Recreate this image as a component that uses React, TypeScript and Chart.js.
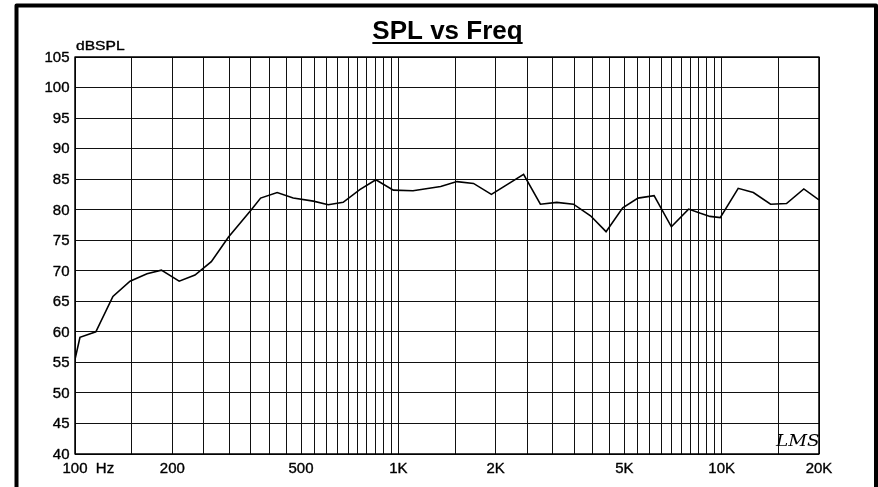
import React, { useEffect, useRef } from 'react';
import { Chart, registerables } from 'chart.js';

Chart.register(...registerables);

// Frequency (Hz) and SPL (dB) of the measured response
const FREQ = [100, 103.6, 116, 131, 148, 167, 185, 210, 235, 264, 298, 351, 375, 422, 473, 546, 607, 675, 760, 852, 965, 1110, 1352, 1518, 1708, 1940, 2440, 2750, 3090, 3480, 3930, 4390, 4943, 5512, 6180, 6990, 7900, 8600, 9200, 9900, 11250, 12530, 14170, 15870, 17950, 20000];
const SPL = [55.5, 59.1, 60.0, 65.8, 68.3, 69.5, 70.1, 68.3, 69.3, 71.5, 75.5, 80.0, 81.9, 82.8, 81.9, 81.4, 80.8, 81.2, 83.3, 84.9, 83.2, 83.1, 83.8, 84.6, 84.3, 82.5, 85.8, 80.9, 81.2, 80.9, 79.0, 76.4, 80.3, 81.9, 82.3, 77.2, 80.1, 79.4, 78.9, 78.7, 83.5, 82.8, 80.9, 81.0, 83.4, 81.6];

// Grid positions and tick labels
const X_GRID = [100, 150, 200, 250, 300, 350, 400, 450, 500, 550, 600, 650, 700, 750, 800, 850, 900, 950, 1000, 1500, 2000, 2500, 3000, 3500, 4000, 4500, 5000, 5500, 6000, 6500, 7000, 7500, 8000, 8500, 9000, 9500, 10000, 15000, 20000];
const X_LABEL_VALUES = [100, 200, 500, 1000, 2000, 5000, 10000, 20000];
const X_LABEL_TEXT = ['100', '200', '500', '1K', '2K', '5K', '10K', '20K'];
const Y_TICKS = [40, 45, 50, 55, 60, 65, 70, 75, 80, 85, 90, 95, 100, 105];

const TITLE = 'SPL vs Freq';
const Y_UNIT = 'dBSPL';
const X_UNIT = '  Hz';
const LOGO = 'LMS';

const FONT = '"Liberation Sans", Arial, sans-serif';

function boldText(ctx: CanvasRenderingContext2D, txt: string, x: number, y: number) {
  ctx.fillText(txt, x, y);
  ctx.lineWidth = 0.35;
  ctx.strokeText(txt, x, y);
}

const decorPlugin = {
  id: 'decor',
  afterDraw(chart: any) {
    const ctx = chart.ctx as CanvasRenderingContext2D;
    const { left, top, right, bottom } = chart.chartArea;
    const xs = chart.scales.x;
    const ys = chart.scales.y;
    ctx.save();

    // outer frame
    ctx.strokeStyle = '#000';
    ctx.lineWidth = 4;
    ctx.lineJoin = 'round';
    ctx.strokeRect(16.5, 5.5, 859.5, 600);

    // plot border
    ctx.lineWidth = 1.5;
    ctx.strokeRect(left, top, right - left, bottom - top);

    ctx.fillStyle = '#000';

    // y tick labels
    ctx.font = `14px ${FONT}`;
    ctx.textAlign = 'right';
    ctx.textBaseline = 'middle';
    Y_TICKS.forEach((v) => {
      const y = ys.getPixelForValue(v);
      ctx.save();
      ctx.translate(69.5, y + 1);
      ctx.scale(1.07, 1);
      boldText(ctx, String(v), 0, 0);
      ctx.restore();
    });

    // x tick labels
    ctx.textBaseline = 'alphabetic';
    X_LABEL_VALUES.forEach((v, i) => {
      const x = xs.getPixelForValue(v);
      const txt = X_LABEL_TEXT[i];
      ctx.save();
      ctx.translate(x, 473);
      ctx.scale(1.07, 1);
      if (i === 0) {
        const w = ctx.measureText(txt).width;
        ctx.textAlign = 'left';
        boldText(ctx, txt + X_UNIT, -w / 2, 0);
      } else {
        ctx.textAlign = 'center';
        boldText(ctx, txt, 0, 0);
      }
      ctx.restore();
    });

    // y unit
    ctx.save();
    ctx.font = `12px ${FONT}`;
    ctx.textAlign = 'left';
    ctx.translate(76, 50);
    ctx.scale(1.3, 1);
    boldText(ctx, Y_UNIT, 0, 0);
    ctx.restore();

    // title
    ctx.font = `bold 26px ${FONT}`;
    ctx.textAlign = 'center';
    const tw = ctx.measureText(TITLE).width;
    const tx = 447.5;
    ctx.fillText(TITLE, tx, 39);
    ctx.fillRect(tx - tw / 2, 42, tw, 2);

    // logo
    ctx.font = `italic 16px "DejaVu Serif", serif`;
    ctx.textAlign = 'left';
    ctx.save();
    ctx.translate(776, 446);
    ctx.scale(1.15, 1);
    ctx.fillText(LOGO, 0, 0);
    ctx.restore();

    ctx.restore();
  },
};

export default function App() {
  const ref = useRef<HTMLCanvasElement | null>(null);

  useEffect(() => {
    if (!ref.current) return;
    const chart = new Chart(ref.current, {
      type: 'line',
      data: {
        datasets: [
          {
            data: FREQ.map((f, i) => ({ x: f, y: SPL[i] })),
            borderColor: '#000',
            borderWidth: 1.6,
            pointRadius: 0,
            tension: 0,
            fill: false,
          },
        ],
      },
      options: {
        responsive: false,
        animation: false,
        events: [],
        layout: { padding: { left: 75, top: 57, right: 59, bottom: 33 } },
        plugins: { legend: { display: false }, tooltip: { enabled: false }, title: { display: false } },
        scales: {
          x: {
            type: 'logarithmic',
            min: 100,
            max: 20000,
            afterBuildTicks: (scale: any) => {
              scale.ticks = X_GRID.map((v) => ({ value: v }));
            },
            ticks: { display: false },
            grid: { color: '#111', lineWidth: 1, drawTicks: false },
            border: { display: false },
          },
          y: {
            type: 'linear',
            min: 40,
            max: 105,
            ticks: { display: false, stepSize: 5 },
            grid: { color: '#111', lineWidth: 1, drawTicks: false },
            border: { display: false },
          },
        },
      },
      plugins: [decorPlugin],
    });
    return () => chart.destroy();
  }, []);

  return (
    <div style={{ position: 'fixed', left: 0, top: 0, width: 878, height: 487, background: '#fff' }}>
      <canvas ref={ref} width={878} height={487} style={{ display: 'block' }} />
    </div>
  );
}
